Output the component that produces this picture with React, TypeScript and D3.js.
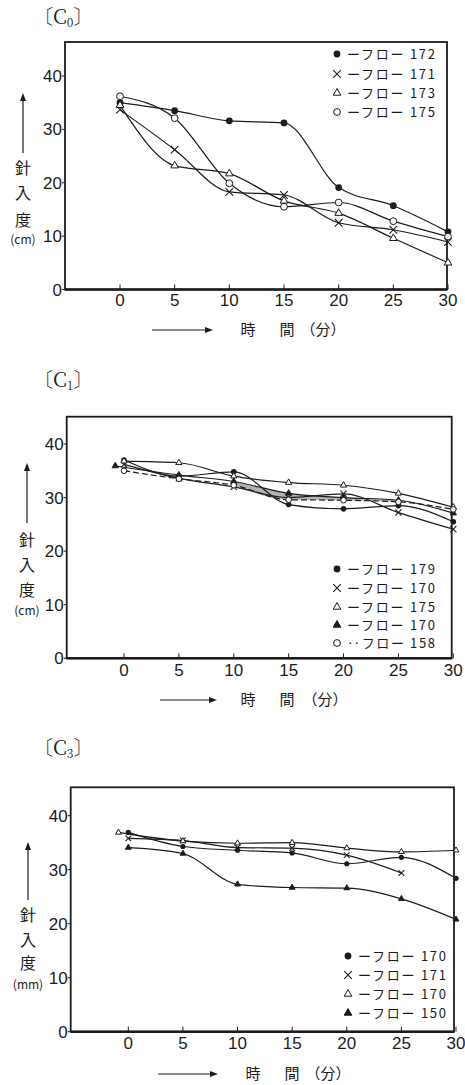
import React from "react";
import * as d3 from "d3";

// time axis (min)
const minutes = [0, 5, 10, 15, 20, 25, 30];
const xTickLabels = ["0", "5", "10", "15", "20", "25", "30"];
const yTickValues = [0, 10, 20, 30, 40];

// [C0]
const c0Flow172 = [35.0, 33.5, 31.6, 31.2, 19.1, 15.7, 10.8];
const c0Flow171 = [33.7, 26.2, 18.3, 17.7, 12.5, 11.2, 8.9];
const c0Flow173 = [34.5, 23.2, 21.7, 16.6, 14.3, 9.6, 5.0];
const c0Flow175 = [36.2, 32.1, 19.9, 15.5, 16.3, 12.8, 9.9];

// [C1]
const c1Flow179 = [37.0, 34.0, 34.8, 28.7, 27.9, 28.5, 25.5];
const c1Flow170x = [36.2, 33.6, 32.0, 30.0, 30.7, 27.2, 24.1];
const c1Flow175 = [36.8, 36.5, 34.0, 32.8, 32.3, 30.8, 28.2];
const c1TriMinutes = [-0.8, 5, 10, 15, 20, 25, 30];
const c1Flow170tri = [35.9, 34.2, 33.0, 30.8, 30.0, 29.5, 27.1];
const c1Flow158 = [35.0, 33.5, 32.3, 29.6, 29.5, 29.2, 27.8];

// [C3]
const c3Flow170 = [36.9, 34.3, 33.6, 33.1, 31.1, 32.3, 28.4];
const c3Minutes171 = [0, 5, 10, 15, 20, 25];
const c3Flow171 = [35.8, 35.4, 34.1, 34.0, 32.7, 29.4];
const c3TriMinutes = [-0.9, 5, 10, 15, 20, 25, 30];
const c3Flow170tri = [36.9, 35.3, 34.9, 35.0, 34.0, 33.3, 33.6];
const c3Flow150 = [34.1, 33.0, 27.3, 26.7, 26.6, 24.6, 20.8];

type Mark = "dot" | "circle" | "cross" | "tri" | "triFill";
type Series = { xs: number[]; ys: number[]; mark: Mark; label: string; dashed?: boolean; sep?: string };

const panels = [
  {
    sub: "0",
    unit: "(cm)",
    series: [
      { xs: minutes, ys: c0Flow172, mark: "dot", label: "172" },
      { xs: minutes, ys: c0Flow171, mark: "cross", label: "171" },
      { xs: minutes, ys: c0Flow173, mark: "tri", label: "173" },
      { xs: minutes, ys: c0Flow175, mark: "circle", label: "175" },
    ] as Series[],
    shade: null as null | [number, number],
    g: {
      x0: 120, x30: 448, y0: 289.5, y40: 76,
      fl: 65, fr: 447, ft: 42, fb: 289.5,
      titleY: 17, arrowX: 23, arrowTop: 93, arrowBot: 153, chars: [168, 193, 220, 240],
      xlY: 330, xlArrow: [152, 213], xlChars: [248, 287, 323], tickY: 300,
      legX: 337, legRows: [54, 74, 93, 112], mr: 3.4,
    },
  },
  {
    sub: "1",
    unit: "(cm)",
    series: [
      { xs: minutes, ys: c1Flow179, mark: "dot", label: "179" },
      { xs: minutes, ys: c1Flow170x, mark: "cross", label: "170" },
      { xs: minutes, ys: c1Flow175, mark: "tri", label: "175" },
      { xs: c1TriMinutes, ys: c1Flow170tri, mark: "triFill", label: "170" },
      { xs: minutes, ys: c1Flow158, mark: "circle", label: "158", dashed: true, sep: "‥" },
    ] as Series[],
    shade: [3, 4] as null | [number, number],
    g: {
      x0: 124, x30: 453.3, y0: 658.3, y40: 444,
      fl: 66.7, fr: 451.7, ft: 416.7, fb: 658.3,
      titleY: 380, arrowX: 27, arrowTop: 463, arrowBot: 523, chars: [540, 565, 590, 611],
      xlY: 700, xlArrow: [160, 217], xlChars: [248, 287, 325], tickY: 670,
      legX: 337, legRows: [569, 588, 607, 625, 643], mr: 2.8,
    },
  },
  {
    sub: "3",
    unit: "(mm)",
    series: [
      { xs: minutes, ys: c3Flow170, mark: "dot", label: "170" },
      { xs: c3Minutes171, ys: c3Flow171, mark: "cross", label: "171" },
      { xs: c3TriMinutes, ys: c3Flow170tri, mark: "tri", label: "170" },
      { xs: minutes, ys: c3Flow150, mark: "triFill", label: "150" },
    ] as Series[],
    shade: null as null | [number, number],
    g: {
      x0: 128.3, x30: 456, y0: 1031.7, y40: 815.7,
      fl: 70.7, fr: 454, ft: 787.3, fb: 1031.7,
      titleY: 748, arrowX: 28, arrowTop: 842, arrowBot: 900, chars: [915, 940, 963, 985],
      xlY: 1074, xlArrow: [158, 218], xlChars: [253, 292, 328], tickY: 1043,
      legX: 348, legRows: [956, 975, 994, 1013], mr: 2.6,
    },
  },
];

const INK = "#1c1c1c";
const JP = "'Noto Sans CJK JP', 'Noto Sans', sans-serif";
const NUM = "'Liberation Sans', 'DejaVu Sans', sans-serif";
const SERIF = "'Noto Serif CJK JP', 'Liberation Serif', 'DejaVu Serif', serif";

function Marker({ x, y, mark, r }: { x: number; y: number; mark: Mark; r: number }) {
  if (mark === "dot") return <circle cx={x} cy={y} r={r} fill={INK} />;
  if (mark === "circle") return <circle cx={x} cy={y} r={r} fill="#fff" stroke={INK} strokeWidth={1} />;
  if (mark === "cross") {
    const p = d3.symbol(d3.symbolTimes, r * r * 3.4)();
    return <path d={p || ""} transform={`translate(${x},${y})`} fill="none" stroke={INK} strokeWidth={1.1} />;
  }
  const t = d3.symbol(d3.symbolTriangle, r * r * 2.2)();
  return (
    <path
      d={t || ""}
      transform={`translate(${x},${y})`}
      fill={mark === "triFill" ? INK : "#fff"}
      stroke={INK}
      strokeWidth={1}
    />
  );
}

function Panel({ p }: { p: (typeof panels)[number] }) {
  const g = p.g;
  const x = d3.scaleLinear().domain([0, 30]).range([g.x0, g.x30]);
  const y = d3.scaleLinear().domain([0, 40]).range([g.y0, g.y40]);
  const line = d3
    .line<[number, number]>()
    .x((d) => x(d[0]))
    .y((d) => y(d[1]))
    .curve(d3.curveMonotoneX);

  let shadePath: string | null = null;
  if (p.shade) {
    const a = p.series[p.shade[0]];
    const b = p.series[p.shade[1]];
    const rows = a.xs
      .map((xv, i) => ({ x: Math.max(xv, 0), y1: a.ys[i], y2: b.ys[i] }))
      .filter((d) => d.x >= 10 && d.x <= 25);
    shadePath = d3
      .area<{ x: number; y1: number; y2: number }>()
      .x((d) => x(d.x))
      .y0((d) => y(d.y1))
      .y1((d) => y(d.y2))
      .curve(d3.curveMonotoneX)(rows);
  }

  return (
    <g>
      {/* title */}
      <text x={33} y={g.titleY + 7} fontFamily={SERIF} fontSize={20} fill={INK}>
        〔C<tspan fontSize={12} dy={3}>{p.sub}</tspan>
        <tspan dy={-3}>〕</tspan>
      </text>

      {/* frame */}
      <rect x={g.fl} y={g.ft} width={g.fr - g.fl} height={g.fb - g.ft} fill="none" stroke={INK} strokeWidth={1.8} />
      <line x1={g.fl} x2={g.fr} y1={g.fb} y2={g.fb} stroke={INK} strokeWidth={2.4} />

      {/* y ticks */}
      {yTickValues.map((v) => (
        <g key={"y" + v}>
          <line x1={g.fl - 3} x2={g.fl} y1={y(v)} y2={y(v)} stroke={INK} strokeWidth={1} />
          <text x={g.fl - 3} y={y(v)} dy="0.36em" textAnchor="end" fontFamily={NUM} fontSize={17} fill={INK}>
            {v}
          </text>
        </g>
      ))}

      {/* x ticks */}
      {minutes.map((m, i) => (
        <g key={"x" + m}>
          <line x1={x(m)} x2={x(m)} y1={g.fb} y2={g.fb - 5} stroke={INK} strokeWidth={1} />
          <text x={x(m)} y={g.tickY} dy="0.36em" textAnchor="middle" fontFamily={NUM} fontSize={17} fill={INK}>
            {xTickLabels[i]}
          </text>
        </g>
      ))}

      {/* shaded band */}
      {shadePath && <path d={shadePath} fill="#9a9a9a" opacity={0.75} />}

      {/* series */}
      {p.series.map((s, k) => (
        <path
          key={"l" + k}
          d={line(s.xs.map((xv, i) => [xv, s.ys[i]] as [number, number])) || ""}
          fill="none"
          stroke={INK}
          strokeWidth={1.2}
          strokeDasharray={s.dashed ? "6,3" : undefined}
        />
      ))}
      {p.series.map((s, k) =>
        s.xs.map((xv, i) => <Marker key={`m${k}-${i}`} x={x(xv)} y={y(s.ys[i])} mark={s.mark} r={g.mr} />)
      )}

      {/* legend */}
      {p.series.map((s, k) => (
        <g key={"leg" + k}>
          <Marker x={g.legX} y={g.legRows[k]} mark={s.mark} r={3.4} />
          <text
            x={g.legX + 10}
            y={g.legRows[k]}
            dy="0.36em"
            fontFamily={JP}
            fontSize={13}
            fill={INK}
            textLength={88}
            lengthAdjust="spacing"
          >
            {(s.sep || "ー") + "フロー " + s.label}
          </text>
        </g>
      ))}

      {/* y label */}
      <line x1={g.arrowX} x2={g.arrowX} y1={g.arrowBot} y2={g.arrowTop + 6} stroke={INK} strokeWidth={1.2} />
      <path
        d={`M${g.arrowX},${g.arrowTop} L${g.arrowX - 3},${g.arrowTop + 8} L${g.arrowX + 3},${g.arrowTop + 8}Z`}
        fill={INK}
      />
      {["針", "入", "度"].map((c, i) => (
        <text key={c} x={g.arrowX} y={g.chars[i]} dy="0.36em" textAnchor="middle" fontFamily={JP} fontSize={16} fill={INK}>
          {c}
        </text>
      ))}
      <text x={g.arrowX} y={g.chars[3]} dy="0.36em" textAnchor="middle" fontFamily={JP} fontSize={12} fill={INK}>
        {p.unit}
      </text>

      {/* x label */}
      <line x1={g.xlArrow[0]} x2={g.xlArrow[1] - 6} y1={g.xlY} y2={g.xlY} stroke={INK} strokeWidth={1.2} />
      <path
        d={`M${g.xlArrow[1]},${g.xlY} L${g.xlArrow[1] - 8},${g.xlY - 3} L${g.xlArrow[1] - 8},${g.xlY + 3}Z`}
        fill={INK}
      />
      {["時", "間", "（分）"].map((c, i) => (
        <text key={c} x={g.xlChars[i]} y={g.xlY} dy="0.36em" textAnchor="middle" fontFamily={JP} fontSize={15} fill={INK}>
          {c}
        </text>
      ))}
    </g>
  );
}

export default function App() {
  return (
    <svg
      width={465}
      height={1085}
      style={{ position: "absolute", left: 0, top: 0, background: "#fff" }}
    >
      <rect width={465} height={1085} fill="#fff" />
      {panels.map((p) => (
        <Panel key={p.sub} p={p} />
      ))}
    </svg>
  );
}
